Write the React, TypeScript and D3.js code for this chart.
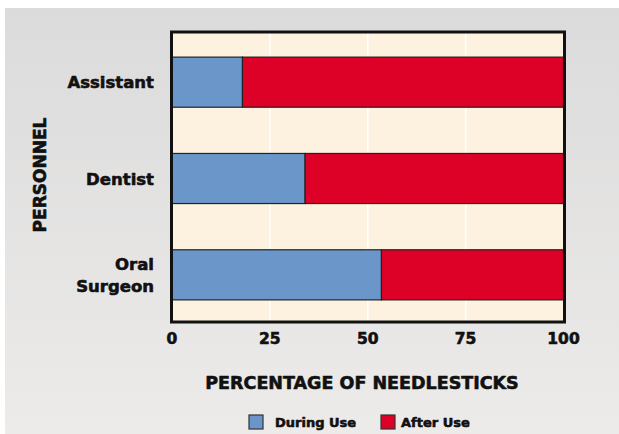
import React, { useRef, useEffect } from "react";
import * as d3 from "d3";

const categories = ["Assistant", "Dentist", "Oral Surgeon"];
const duringUse = [18, 34, 53.5];
const afterUse = [82, 66, 46.5];
const xTicks = [0, 25, 50, 75, 100];
const seriesNames = ["During Use", "After Use"];
const seriesColors = ["#6A96CA", "#DD0027"];

const FONT = "'DejaVu Sans', sans-serif";

const App: React.FC = () => {
  const svgRef = useRef<SVGSVGElement>(null);

  useEffect(() => {
    const W = 619;
    const H = 434;
    const svg = d3.select(svgRef.current);
    svg.selectAll("*").remove();

    // gray panel with a soft vertical gradient
    const defs = svg.append("defs");
    const grad = defs.append("linearGradient").attr("id", "bg").attr("x1", 0).attr("x2", 0).attr("y1", 0).attr("y2", 1);
    grad.append("stop").attr("offset", "0%").attr("stop-color", "#DCDBDB");
    grad.append("stop").attr("offset", "100%").attr("stop-color", "#ECEBEA");

    svg.append("rect").attr("width", W).attr("height", H).attr("fill", "#ffffff");
    svg.append("rect").attr("x", 5).attr("y", 8).attr("width", W - 5).attr("height", H - 8).attr("fill", "url(#bg)");

    const plot = { left: 171.5, top: 32, right: 564.5, bottom: 322 };

    const x = d3.scaleLinear().domain([0, 100]).range([plot.left + 0.5, plot.right - 1]);
    const y = d3.scaleBand().domain(categories).range([plot.top + 2, plot.bottom + 1]).paddingInner(0.48).paddingOuter(0.24);

    const g = svg.append("g");

    g.append("rect")
      .attr("x", plot.left).attr("y", plot.top)
      .attr("width", plot.right - plot.left).attr("height", plot.bottom - plot.top)
      .attr("fill", "#FDF2DF");

    // white gridlines
    g.selectAll(".grid")
      .data(xTicks.slice(1, -1))
      .enter()
      .append("line")
      .attr("x1", d => x(d)).attr("x2", d => x(d))
      .attr("y1", plot.top).attr("y2", plot.bottom)
      .attr("stroke", "#ffffff").attr("stroke-width", 1.5);

    const stacked = categories.map((c, i) => ({ cat: c, vals: [duringUse[i], afterUse[i]] }));

    stacked.forEach(row => {
      let acc = 0;
      row.vals.forEach((v, j) => {
        g.append("rect")
          .attr("x", x(acc))
          .attr("y", y(row.cat)!)
          .attr("width", x(acc + v) - x(acc))
          .attr("height", y.bandwidth())
          .attr("fill", seriesColors[j])
          .attr("stroke", "#222")
          .attr("stroke-width", 1.2);
        acc += v;
      });
    });

    // frame
    g.append("rect")
      .attr("x", plot.left).attr("y", plot.top)
      .attr("width", plot.right - plot.left).attr("height", plot.bottom - plot.top)
      .attr("fill", "none").attr("stroke", "#111").attr("stroke-width", 3);

    // heavy text helper
    const heavy = (sel: d3.Selection<SVGTextElement, any, any, any>, size: number) =>
      sel.attr("font-family", FONT).attr("font-weight", "bold").attr("font-size", size)
        .attr("fill", "#111").attr("stroke", "#111").attr("stroke-width", 0.6)
        .attr("stroke-linejoin", "round");

    // category labels
    categories.forEach(c => {
      const words = c === "Oral Surgeon" ? ["Oral", "Surgeon"] : [c];
      const cy = y(c)! + y.bandwidth() / 2;
      const t = heavy(svg.append("text").attr("text-anchor", "end"), 16.5);
      words.forEach((w, k) => {
        t.append("tspan")
          .attr("x", 154)
          .attr("y", cy + 6 + (k - (words.length - 1) / 2) * 22)
          .text(w);
      });
    });

    // x tick labels
    heavy(svg.selectAll(".xt")
      .data(xTicks)
      .enter()
      .append("text")
      .attr("x", d => x(d))
      .attr("y", 344)
      .attr("text-anchor", "middle"), 15.5)
      .text(d => d);

    heavy(svg.append("text")
      .attr("x", 362).attr("y", 389)
      .attr("text-anchor", "middle"), 17.5)
      .text("PERCENTAGE OF NEEDLESTICKS");

    heavy(svg.append("text")
      .attr("transform", "translate(46,175) rotate(-90)")
      .attr("text-anchor", "middle"), 17)
      .text("PERSONNEL");

    // legend
    const legendX = [249, 381];
    seriesNames.forEach((n, i) => {
      svg.append("rect")
        .attr("x", legendX[i]).attr("y", 415)
        .attr("width", 14).attr("height", 14)
        .attr("fill", seriesColors[i]).attr("stroke", "#333").attr("stroke-width", 1.2);
      heavy(svg.append("text")
        .attr("x", legendX[i] + 26 - (i === 1 ? 6 : 0)).attr("y", 427), 13)
        .text(n);
    });
  }, []);

  return <svg ref={svgRef} width={619} height={434} style={{ position: "absolute", left: 0, top: 0 }}></svg>;
};

export default App;
